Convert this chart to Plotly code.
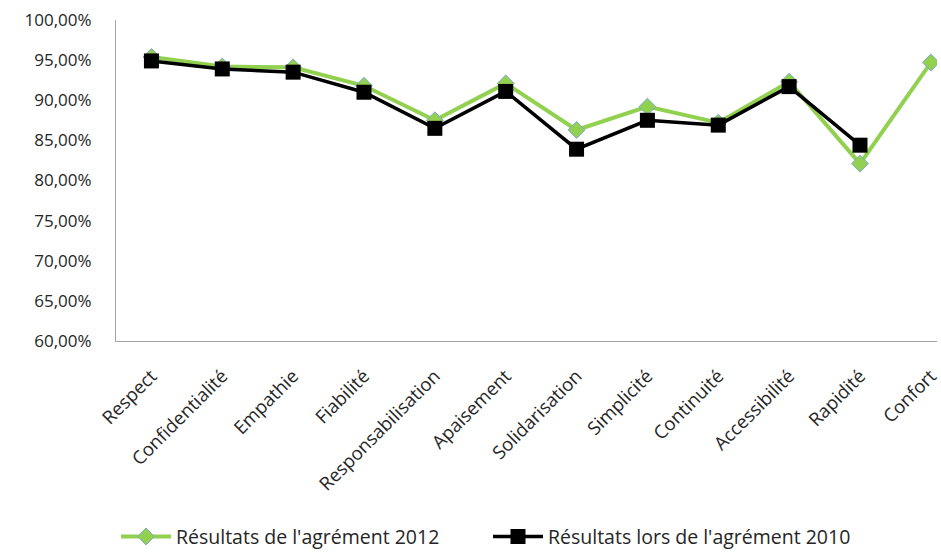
import plotly.graph_objects as go

categories = ["Respect", "Confidentialité", "Empathie", "Fiabilité", "Responsabilisation",
              "Apaisement", "Solidarisation", "Simplicité", "Continuité", "Accessibilité",
              "Rapidité", "Confort"]
agrement_2012 = [0.954, 0.942, 0.941, 0.918, 0.875, 0.921, 0.863, 0.892, 0.872, 0.923, 0.821, 0.947]
agrement_2010 = [0.949, 0.939, 0.935, 0.910, 0.865, 0.911, 0.839, 0.875, 0.869, 0.917, 0.844, None]

FONT = "Open Sans"
TEXT = "#262626"

fig = go.Figure()
fig.add_trace(go.Scatter(
    x=categories, y=agrement_2012, mode="lines+markers",
    name="Résultats de l'agrément 2012",
    line=dict(color="#92D050", width=4),
    marker=dict(symbol="diamond", size=13, color="#92D050",
                line=dict(color="#7FA7D6", width=1)),
))
fig.add_trace(go.Scatter(
    x=categories, y=agrement_2010, mode="lines+markers",
    name="Résultats lors de l'agrément 2010",
    line=dict(color="#000000", width=3.5),
    marker=dict(symbol="square", size=15, color="#000000"),
    connectgaps=False,
))

fig.update_layout(
    width=941, height=557,
    margin=dict(l=116, r=0, t=20, b=213),
    paper_bgcolor="white", plot_bgcolor="white",
    separators=", ",
    font=dict(family=FONT, size=17, color=TEXT),
    showlegend=True,
    legend=dict(orientation="h", x=0.0, xanchor="left", y=-0.61, yanchor="middle",
                font=dict(family=FONT, size=19.5, color=TEXT), itemwidth=50,
                entrywidth=307, tracegroupgap=0),
)
fig.update_xaxes(
    type="category", range=[-0.5, 11.087],
    tickangle=-45, showgrid=False, ticks="",
    showline=True, linecolor="#A6A6A6", linewidth=1,
    tickfont=dict(family=FONT, size=18.5, color=TEXT),
    ticklabelstandoff=16,
)
fig.update_yaxes(
    range=[0.6, 1.0], dtick=0.05, tickformat=".2%",
    showgrid=False, ticks="", zeroline=False,
    showline=True, linecolor="#A6A6A6", linewidth=1,
    tickfont=dict(family=FONT, size=17, color=TEXT),
    ticklabelstandoff=20,
)

fig.write_html("out.html")
